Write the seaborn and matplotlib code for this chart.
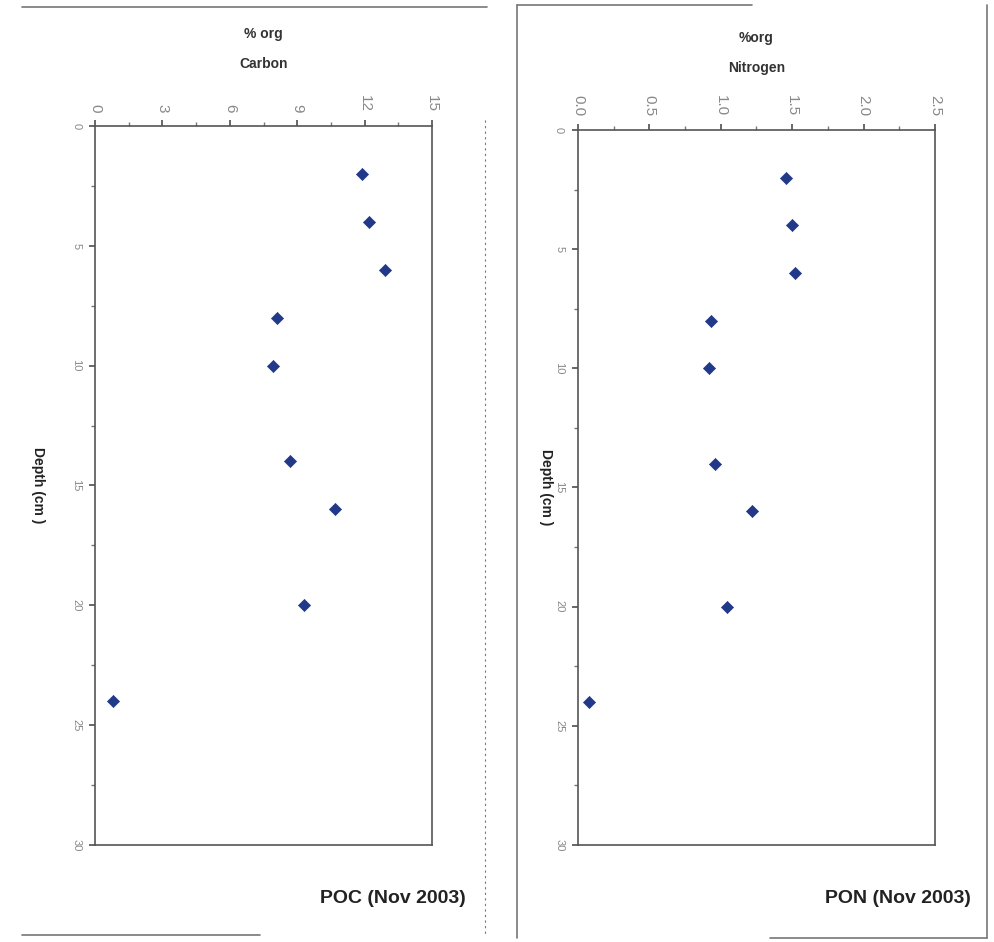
import matplotlib
matplotlib.use("Agg")
import matplotlib.pyplot as plt
import seaborn as sns
import pandas as pd
from matplotlib.lines import Line2D
from matplotlib.ticker import MultipleLocator

depth = [2, 4, 6, 8, 10, 14, 16, 20, 24]
poc = [11.9, 12.2, 12.9, 8.1, 7.9, 8.7, 10.7, 9.3, 0.8]
pon = [1.46, 1.50, 1.52, 0.93, 0.92, 0.96, 1.22, 1.04, 0.08]
poc_ticks = [0, 3, 6, 9, 12, 15]
pon_ticks = [0.0, 0.5, 1.0, 1.5, 2.0, 2.5]
depth_ticks = [0, 5, 10, 15, 20, 25, 30]

df = pd.DataFrame({"depth": depth, "poc": poc, "pon": pon})

sns.set_theme(style="white")
plt.rcParams['font.family'] = ['Liberation Sans', 'DejaVu Sans']

fig = plt.figure(figsize=(9.95, 9.42), dpi=100)
axL = fig.add_axes([0.0955, 0.1030, 0.3387, 0.7633])
axR = fig.add_axes([0.5809, 0.1030, 0.3588, 0.7590])

marker_color = "#22398a"
tick_color = "#888888"

def style(ax, xcol, xticks, xlim, title, xfmt, sub, xminor, labelpad):
    sns.scatterplot(data=df, x=xcol, y="depth", ax=ax, marker="D", s=38,
                    color=marker_color, edgecolor=marker_color, linewidth=0.5)
    ax.set_xlim(*xlim)
    ax.set_ylim(30, 0)
    ax.xaxis.tick_top()
    ax.set_xticks(xticks)
    ax.xaxis.set_minor_locator(MultipleLocator(xminor))
    ax.yaxis.set_minor_locator(MultipleLocator(2.5))
    ax.set_xticklabels([xfmt(v) for v in xticks], rotation=-90, color=tick_color, fontsize=11)
    ax.set_yticks(depth_ticks)
    ax.set_yticklabels([str(v) for v in depth_ticks], rotation=-90, color=tick_color, fontsize=8, va="center")
    ax.tick_params(axis="x", which="major", direction="out", length=4, color="#555555", pad=6, top=True, bottom=False)
    ax.tick_params(axis="x", which="minor", direction="out", length=3, color="#777777", top=True, bottom=False)
    ax.tick_params(axis="y", which="major", direction="out", length=4, color="#555555", pad=6, left=True)
    ax.tick_params(axis="y", which="minor", direction="out", length=3, color="#777777", left=True)
    ax.set_xlabel("")
    ax.set_ylabel("Depth (cm )", rotation=-90, fontsize=10, fontweight="bold", color="#222222",
                  labelpad=labelpad, va="center")
    for s in ax.spines.values():
        s.set_color("#555555")
        s.set_linewidth(1.2)
    ax.set_title(title, fontsize=10, fontweight="bold", color="#333333", pad=42, linespacing=2.4)
    ax.text(1.1, -0.075, sub, transform=ax.transAxes, ha="right", va="center",
            fontsize=14, fontweight="bold", color="#222222")

style(axL, "poc", poc_ticks, (0, 15), "% org\nCarbon", lambda v: f"{v:g}", "POC (Nov 2003)", 1.5, 24)
style(axR, "pon", pon_ticks, (0, 2.5), "%org\nNitrogen", lambda v: f"{v:.1f}", "PON (Nov 2003)", 0.25, 6)

# scanned page frame lines
lc = "#777777"
fig.add_artist(Line2D([22/995, 487/995], [1-7/942, 1-7/942], color=lc, lw=1.2))
fig.add_artist(Line2D([22/995, 260/995], [1-935/942, 1-935/942], color=lc, lw=1.2))
fig.add_artist(Line2D([485/995, 485/995], [1-120/942, 1-935/942], color=lc, lw=0.8, ls=(0, (2, 3))))
fig.add_artist(Line2D([517/995, 752/995], [1-5/942, 1-5/942], color=lc, lw=1.2))
fig.add_artist(Line2D([517/995, 517/995], [1-5/942, 1-938/942], color=lc, lw=1.2))
fig.add_artist(Line2D([987/995, 987/995], [1-5/942, 1-938/942], color=lc, lw=1.2))
fig.add_artist(Line2D([770/995, 987/995], [1-938/942, 1-938/942], color=lc, lw=1.2))

fig.savefig("out.png", dpi=100, facecolor="white")
